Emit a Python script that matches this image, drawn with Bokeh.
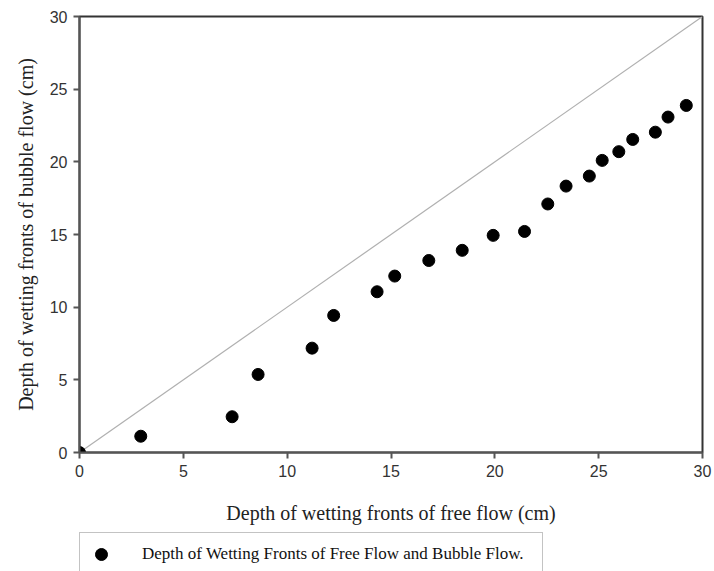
from bokeh.plotting import figure
from bokeh.models import Range1d, Legend, LegendItem, FixedTicker
from bokeh.layouts import column
from bokeh.embed import file_html
from bokeh.resources import INLINE

free_flow = [0.0, 2.95, 7.35, 8.6, 11.2, 12.24, 14.33, 15.18, 16.82, 18.43, 19.92,
             21.43, 22.55, 23.43, 24.55, 25.17, 25.97, 26.64, 27.73, 28.34, 29.22]
bubble_flow = [0.0, 1.12, 2.46, 5.37, 7.18, 9.43, 11.06, 12.14, 13.21, 13.91, 14.94,
               15.21, 17.1, 18.33, 19.02, 20.1, 20.7, 21.54, 22.04, 23.08, 23.88]
ref_x = [0, 30]
ref_y = [0, 30]
ticks = [0, 5, 10, 15, 20, 25, 30]
legend_label = "Depth of Wetting Fronts of Free Flow and Bubble Flow."

p = figure(width=714, height=532, output_backend="svg", toolbar_location=None,
           x_range=Range1d(0, 30), y_range=Range1d(0, 30),
           min_border_left=79, min_border_right=12, min_border_top=16, min_border_bottom=80)
p.grid.visible = False
p.outline_line_color = "#333333"
p.outline_line_width = 2

for ax in (p.xaxis[0], p.yaxis[0]):
    ax.ticker = FixedTicker(ticks=ticks)
    ax.axis_line_color = "#555555"
    ax.axis_line_width = 2
    ax.major_tick_line_color = "#555555"
    ax.major_tick_line_width = 2
    ax.major_tick_in = 0
    ax.major_tick_out = 6
    ax.minor_tick_line_color = None
    ax.major_label_text_font = "Liberation Sans"
    ax.major_label_text_font_size = "16px"
    ax.major_label_text_color = "#333333"
    ax.axis_label_text_font = "Liberation Serif"
    ax.axis_label_text_font_size = "20px"
    ax.axis_label_text_font_style = "normal"
    ax.axis_label_text_color = "#222222"
    ax.major_label_standoff = 6

p.xaxis.axis_label = "Depth of wetting fronts of free flow (cm)"
p.yaxis.axis_label = "Depth of wetting fronts of bubble flow (cm)"
p.xaxis.axis_label_standoff = 22
p.yaxis.axis_label_standoff = 10

p.line(ref_x, ref_y, line_color="#b0b0b0", line_width=1.2)
p.scatter(free_flow, bubble_flow, size=12, color="black")

# legend strip below the chart (its marker sits outside the strip's range, so only the legend shows it)
q = figure(width=714, height=39, output_backend="svg", toolbar_location=None,
           x_range=Range1d(0, 1), y_range=Range1d(0, 1),
           min_border_left=78, min_border_right=0, min_border_top=0, min_border_bottom=0)
q.axis.visible = False
q.grid.visible = False
q.outline_line_color = None
lr = q.scatter(x=[5], y=[5], size=12, color="black")
legend = Legend(items=[LegendItem(label=legend_label, renderers=[lr])],
                location="top_left", label_text_font="Liberation Serif",
                label_text_font_size="17px", label_text_color="#111111",
                border_line_color="#888888",
                border_line_width=1.5, padding=6, spacing=0, label_standoff=26,
                label_width=394, glyph_width=30, glyph_height=30, margin=0)
q.add_layout(legend, "center")

layout = column(p, q, spacing=0)
open("out.html", "w").write(file_html(layout, INLINE))
